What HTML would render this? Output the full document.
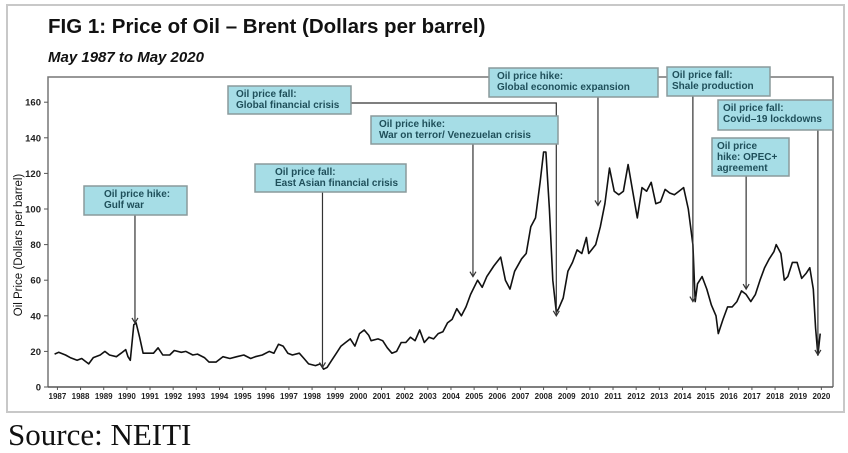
<!DOCTYPE html>
<html><head><meta charset="utf-8"><style>
html,body{margin:0;padding:0;background:#fff;}
svg{display:block;font-family:"Liberation Sans",Arial,sans-serif;}
</style></head><body>
<svg id="chart" width="848" height="453" viewBox="0 0 848 453">
<rect x="7" y="5" width="837" height="407" fill="#fff" stroke="#c8c8c8" stroke-width="2"/>
<text x="48" y="33" font-size="20.5" font-weight="bold" fill="#111">FIG 1: Price of Oil – Brent (Dollars per barrel)</text>
<text x="48" y="62" font-size="15" font-weight="bold" font-style="italic" fill="#111">May 1987 to May 2020</text>
<path d="M48,387 V77 H833 V387" fill="none" stroke="#777" stroke-width="1.5"/>
<line x1="48" y1="387" x2="833" y2="387" stroke="#555" stroke-width="1.5"/>
<g id="yticks"></g>
<g id="xticks"></g>
<text transform="translate(22,245) rotate(-90)" text-anchor="middle" font-size="11.5" fill="#111">Oil Price (Dollars per barrel)</text>
<path id="series" fill="none" stroke="#111" stroke-width="1.6" stroke-linejoin="round"/>
<g id="annots"></g>
<text x="8" y="445" font-family="'Liberation Serif',serif" font-size="31" fill="#111">Source: NEITI</text>
</svg>
<script>
const yTicks=[0,20,40,60,80,100,120,140,160];
const years=[1987,1988,1989,1990,1991,1992,1993,1994,1995,1996,1997,1998,1999,2000,2001,2002,2003,2004,2005,2006,2007,2008,2009,2010,2011,2012,2013,2014,2015,2016,2017,2018,2019,2020];
const dates=[1987.33,1987.5,1987.8,1988.0,1988.3,1988.5,1988.8,1989.0,1989.3,1989.5,1989.7,1990.0,1990.2,1990.4,1990.5,1990.6,1990.75,1990.85,1991.0,1991.15,1991.4,1991.6,1991.8,1992.0,1992.3,1992.5,1992.8,1993.0,1993.3,1993.5,1993.8,1994.0,1994.3,1994.6,1994.9,1995.2,1995.5,1995.8,1996.0,1996.3,1996.6,1996.8,1997.0,1997.2,1997.4,1997.6,1997.9,1998.1,1998.3,1998.6,1998.8,1998.95,1999.1,1999.3,1999.5,1999.7,1999.9,2000.1,2000.3,2000.5,2000.7,2000.9,2001.0,2001.3,2001.5,2001.7,2001.9,2002.1,2002.3,2002.5,2002.7,2002.9,2003.1,2003.3,2003.5,2003.7,2003.9,2004.1,2004.3,2004.5,2004.7,2004.9,2005.1,2005.3,2005.6,2005.8,2006.0,2006.3,2006.6,2006.8,2007.0,2007.2,2007.5,2007.7,2007.9,2008.1,2008.3,2008.45,2008.55,2008.7,2008.85,2009.0,2009.1,2009.3,2009.5,2009.7,2009.9,2010.1,2010.3,2010.4,2010.7,2010.9,2011.1,2011.3,2011.5,2011.7,2011.9,2012.1,2012.3,2012.5,2012.7,2012.9,2013.1,2013.3,2013.5,2013.7,2013.9,2014.1,2014.3,2014.5,2014.7,2014.9,2015.0,2015.1,2015.3,2015.5,2015.7,2015.9,2016.0,2016.2,2016.4,2016.6,2016.8,2017.0,2017.2,2017.4,2017.6,2017.8,2018.0,2018.2,2018.4,2018.5,2018.7,2018.85,2019.0,2019.2,2019.4,2019.6,2019.8,2019.95,2020.1,2020.2,2020.3,2020.4];
const prices=[18.5,19.5,18,16.5,15,16,13,16.5,18,20,18,17,19,21,17,15,35,36,28,19,19,19,22,18,18,20.5,19.5,20,18,18.5,16.5,14,14,17,16,17,18,16,17,18,20,19,24,23,19,18,19,16,13,12,13,10,11,15,19,23,25,27,23,30,32,29,26,27,26,22,19,20,25,25,28,26,32,25,28,27,30,31,36,38,44,40,45,52,60,56,62,68,73,60,55,65,72,75,90,95,115,132,132,100,60,42,44,50,65,70,77,75,84,75,80,90,103,123,110,108,110,125,110,95,112,110,115,103,104,111,109,108,110,112,100,80,48,58,62,55,46,40,30,38,45,45,48,54,52,48,52,60,67,72,76,80,75,60,62,70,70,61,64,67,55,33,18,30];
const annotLabels=[["Oil price hike:","Gulf war"],["Oil price fall:","East Asian financial crisis"],["Oil price fall:","Global financial crisis"],["Oil price hike:","War on terror/ Venezuelan crisis"],["Oil price hike:","Global economic expansion"],["Oil price fall:","Shale production"],["Oil price fall:","Covid–19 lockdowns"],["Oil price","hike: OPEC+","agreement"]];
const annotDates=[1990.8,1998.9,2009.0,2005.4,2010.8,2014.9,2020.3,2017.2];
const annotValues=[36,11,40,62,102,48,18,55];

const NS="http://www.w3.org/2000/svg";
const X=t=>47+(t-1987)*23.15;
const Y=v=>387-v*1.78;
function mk(tag,attrs,parent){const e=document.createElementNS(NS,tag);for(const k in attrs)e.setAttribute(k,attrs[k]);parent.appendChild(e);return e;}
const yg=document.getElementById('yticks');
yTicks.forEach(v=>{
  const l=mk('line',{x1:44,x2:48,y1:Y(v),y2:Y(v),stroke:'#555'},yg);
  
  
  const t=mk('text',{x:41,y:Y(v)+3.5,'text-anchor':'end','font-size':9.5,'font-weight':'bold',fill:'#222'},yg);
  t.textContent=v;
  
  
});
const xg=document.getElementById('xticks');
years.forEach(yr=>{
  const cx=X(yr+0.45);
  const l=mk('line',{x1:cx,x2:cx,y1:387,y2:390,stroke:'#555'},xg);
  
  
  const t=mk('text',{x:cx,y:399,'text-anchor':'middle','font-size':8,'font-weight':'bold',fill:'#222'},xg);
  t.textContent=yr;
  
  
});
document.getElementById('series').setAttribute('d',dates.map((t,i)=>(i?'L':'M')+X(t).toFixed(1)+','+Y(prices[i]).toFixed(1)).join(''));
const boxes=[[84,186,103,29],[255,164,151,28],[228,86,123,28],[371,116,187,28],[489,68,169,29],[667,67,103,29],[718,100,115,30],[712,138,77,38]];
const ag=document.getElementById('annots');
annotLabels.forEach((lines,i)=>{
  const [bx,by,bw,bh]=boxes[i];
  const ax=X(annotDates[i]), ay=Y(annotValues[i]);
  const g=mk('g',{},ag);
  
  
  let d;
  if(i===2){d=`M${bx+bw},${by+17}H${ax}V${ay}`;}
  else{d=`M${ax},${by+bh}V${ay}`;}
  const p=mk('path',{d:d,fill:'none',stroke:'#333','stroke-width':1.2},g);
  
  
  mk('path',{d:`M${ax-3},${ay-5}L${ax},${ay}L${ax+3},${ay-5}`,fill:'none',stroke:'#333','stroke-width':1.2},g);
  const r=mk('rect',{x:bx,y:by,width:bw,height:bh,fill:'#a6dde6',stroke:'#8a9a9c','stroke-width':1.5},g);
  
  
  const pad=(i===0||i===1)?20:(i>=5?5:8);
  lines.forEach((s,j)=>{
    const t=mk('text',{x:bx+pad,y:by+11+j*11,'font-size':10,'font-weight':'bold',fill:'#1f4f5a'},g);
    t.textContent=s;
    
    
  });
});
</script>
</body></html>
